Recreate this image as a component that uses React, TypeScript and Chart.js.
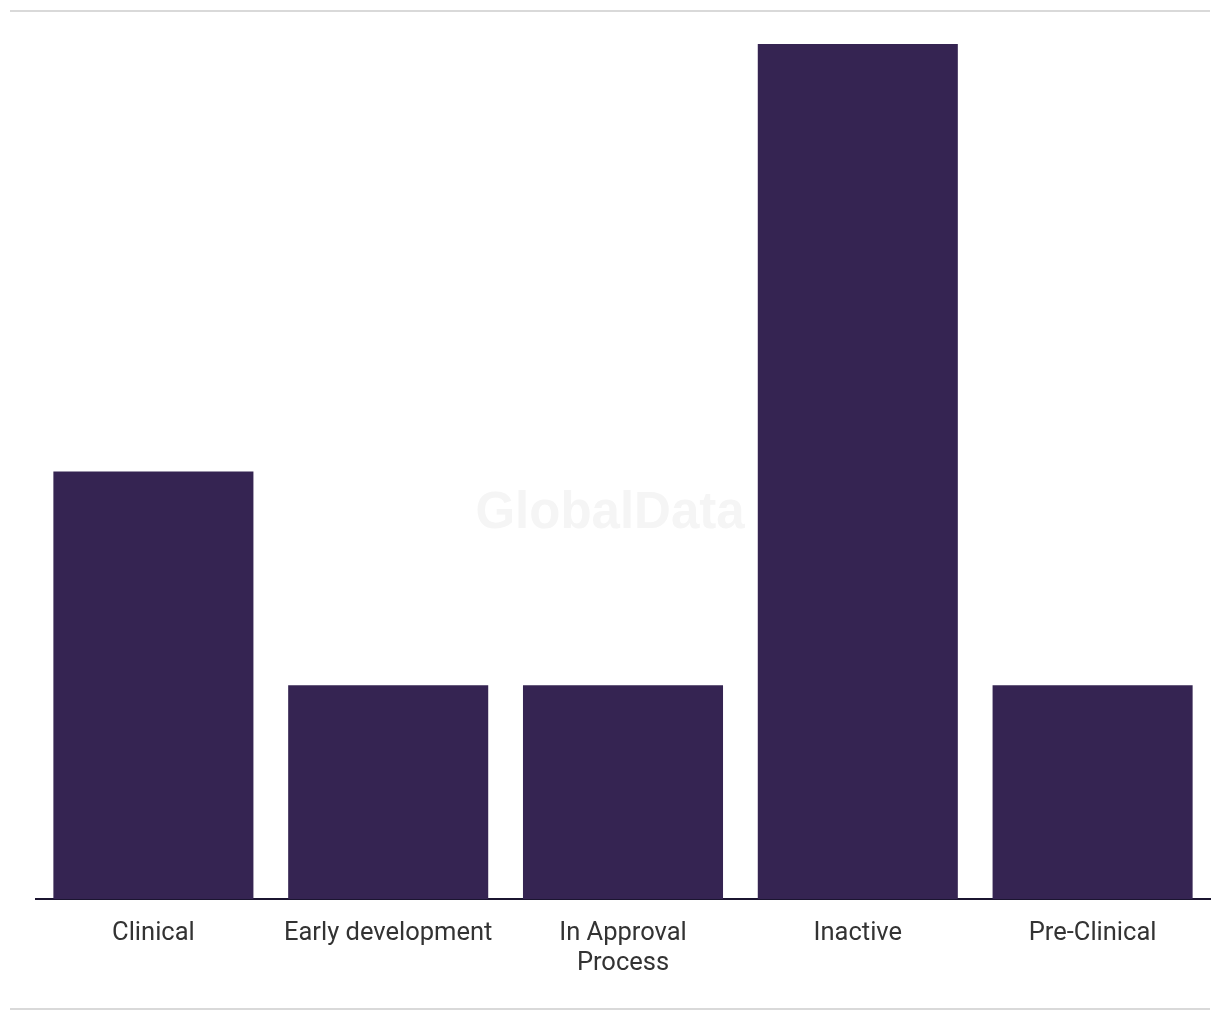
import React, { useEffect, useRef } from "react";
import { Chart, registerables } from "chart.js";

Chart.register(...registerables);

const categories: (string | string[])[] = [
  "Clinical",
  "Early development",
  ["In Approval", "Process"],
  "Inactive",
  "Pre-Clinical",
];
const values: number[] = [2, 1, 1, 4, 1];
const barColor = "#352452";

const watermark = {
  id: "watermark",
  beforeDatasetsDraw(chart: any) {
    const ctx = chart.ctx;
    ctx.save();
    ctx.font = "bold 51px 'Liberation Sans', Arial, sans-serif";
    ctx.fillStyle = "#f5f5f5";
    ctx.textAlign = "center";
    ctx.textBaseline = "middle";
    ctx.fillText("GlobalData", 610, 514);
    ctx.restore();
  },
};

export default function App() {
  const ref = useRef<HTMLCanvasElement>(null);
  useEffect(() => {
    if (!ref.current) return;
    const chart = new Chart(ref.current, {
      type: "bar",
      data: {
        labels: categories,
        datasets: [
          {
            data: values,
            backgroundColor: barColor,
            barPercentage: 0.852,
            categoryPercentage: 1,
          },
        ],
      },
      options: {
        animation: false,
        responsive: false,
        maintainAspectRatio: false,
        layout: { padding: { left: 36, right: 10, top: 44, bottom: 0 } },
        plugins: {
          legend: { display: false },
          tooltip: { enabled: false },
        },
        scales: {
          x: {
            grid: { display: false, drawTicks: false },
            border: { display: true, color: "#1b1530", width: 2 },
            ticks: {
              color: "#333333",
              padding: 20,
              maxRotation: 0,
              autoSkip: false,
              font: { family: "Roboto, 'Noto Sans', sans-serif", size: 25.5, lineHeight: 1.176 },
            },
            afterFit(scale: any) {
              scale.height = 101;
            },
          },
          y: {
            display: false,
            min: 0,
            max: 4,
          },
        },
      },
      plugins: [watermark],
    });
    return () => chart.destroy();
  }, []);

  return (
    <div style={{ position: "absolute", left: 0, top: 0, width: 1220, height: 1020, background: "#fff" }}>
      <div style={{ position: "absolute", left: 10, top: 10, width: 1200, height: 2, background: "#d9d9d9" }} />
      <canvas
        ref={ref}
        width={1220}
        height={1000}
        style={{ position: "absolute", left: 0, top: 0, width: 1220, height: 1000 }}
      />
      <div style={{ position: "absolute", left: 10, top: 1008, width: 1200, height: 2, background: "#d9d9d9" }} />
    </div>
  );
}
